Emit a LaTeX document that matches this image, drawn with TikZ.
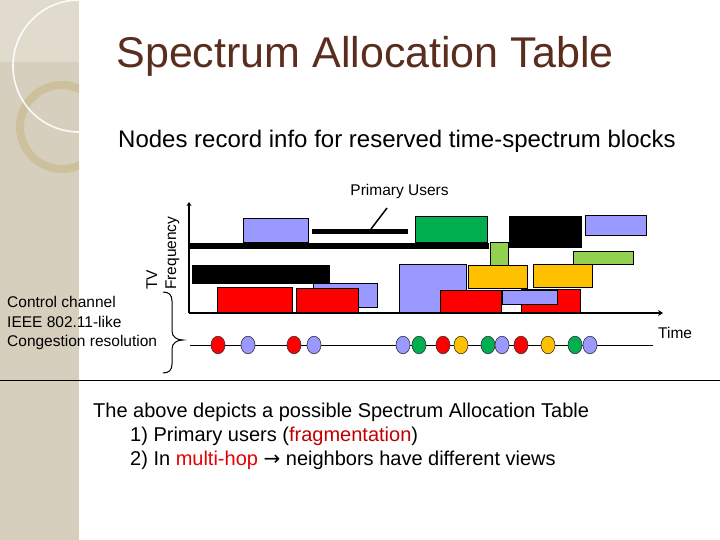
\documentclass[tikz,border=0pt]{standalone}
\usepackage{fontspec}
\setmainfont{Liberation Sans}
\newfontfamily\dejavu{DejaVu Sans}
\usetikzlibrary{arrows.meta}
\definecolor{strip}{RGB}{214,207,189}
\definecolor{striplight}{RGB}{224,219,205}
\definecolor{ring}{RGB}{196,176,120}
\definecolor{titlebrown}{RGB}{90,45,30}
\definecolor{puBlue}{RGB}{153,153,255}
\definecolor{puRed}{RGB}{255,0,0}
\definecolor{puGreen}{RGB}{0,176,80}
\definecolor{puYellow}{RGB}{255,192,0}
\definecolor{puLight}{RGB}{146,208,80}
\definecolor{hlred}{RGB}{192,0,0}
\definecolor{hlredb}{RGB}{230,0,0}
\begin{document}
\begin{tikzpicture}[x=1pt,y=-1pt,
  blk/.style={draw=black,line width=0.8pt},
  dot/.style={draw=black!80,line width=0.6pt},
  lbl/.style={inner sep=0pt,font=\fontsize{15.5}{18}\selectfont},
  body/.style={inner sep=0pt,anchor=base west,font=\fontsize{20}{24}\selectfont},
  axis/.style={line width=2.5pt},
]
\useasboundingbox (0,0) rectangle (720,540);
\fill[white] (0,0) rectangle (720,540);
% decorative strip
\fill[strip] (0,0) rectangle (79,540);
\fill[striplight] (0,0) rectangle (79,62);
\begin{scope}
  \clip (0,0) rectangle (79,540);
  \draw[ring, opacity=0.45, line width=8pt] (62,127) circle (42pt);
  \draw[white, opacity=0.9, line width=1.6pt] (79,66) circle (66pt);
\end{scope}
\draw[line width=0.8pt] (0,380) -- (720,380);

% titles
\node[anchor=base, inner sep=0pt, text=titlebrown, font=\fontsize{43}{50}\selectfont] (title) at (365,68) {Spectrum Allocation Table};
\node[anchor=base west, inner sep=0pt, font=\fontsize{24}{28}\selectfont] (sub) at (118,148) {Nodes record info for reserved time-spectrum blocks};

% labels
\node[lbl, anchor=base] (pu) at (399.5,196) {Primary Users};
\node[lbl, anchor=base west] (cc1) at (7,307) {Control channel};
\node[lbl, anchor=base west] (cc2) at (7,327) {IEEE 802.11-like};
\node[lbl, anchor=base west] (cc3) at (7,346) {Congestion resolution};
\node[lbl, anchor=base west, rotate=90] (tv) at (157,290) {TV};
\node[lbl, anchor=base west, rotate=90] (freq) at (176,290) {Frequency};
\node[lbl, anchor=base west] (time) at (658,338) {Time};

% blocks
\draw[blk, fill=puBlue] (243,218) rectangle (308,242);
\fill (312,229) rectangle (408,234);
\fill (189,243) rectangle (489,249);
\fill (192,265) rectangle (330,284);
\draw[blk, fill=puRed] (217,287) rectangle (292,313);
\draw[blk, fill=puBlue] (313,283) rectangle (377,307);
\draw[blk, fill=puRed] (296,288) rectangle (358,313);
\draw[blk, fill=puBlue] (399,264) rectangle (466,313);
\draw[blk, fill=puGreen] (415,216) rectangle (487,242);
\fill (509,216) rectangle (582,248);
\draw[blk, fill=puBlue] (585,215) rectangle (646,235);
\draw[blk, fill=puLight] (490,242) rectangle (508,266);
\draw[blk, fill=puLight] (573,251) rectangle (633,264);
\draw[blk, fill=puYellow] (468,265) rectangle (527,288);
\draw[blk, fill=puYellow] (533,264) rectangle (592,287);
\draw[blk, fill=puRed] (440,290) rectangle (501,313);
\draw[blk, fill=puRed] (521,289) rectangle (580,313);
\draw[blk, fill=puBlue] (502,290) rectangle (557,304);

% pointer to primary users
\coordinate (ptA) at (371,229);
\coordinate (ptB) at (387,208);
\draw[line width=1.5pt] (ptA) -- (ptB);

% axes
\coordinate (o) at (189,313);
\coordinate (ytop) at (189,202);
\coordinate (xend) at (663,313);
\draw[axis, -{Stealth[length=4pt,width=5pt]}] (o) -- (ytop);
\draw[axis, -{Stealth[length=5pt,width=6pt]}] (o) -- (xend);

% brace
\draw[line width=1pt] (163,292) .. controls (169,292) and (172,295) .. (172,301) -- (172,331)
  .. controls (172,337) and (177,340) .. (183,340)
  .. controls (177,340) and (172,343) .. (172,349) -- (172,364)
  .. controls (172,370) and (169,373) .. (163,373);

% control channel
\coordinate (cA) at (190,345);
\coordinate (cB) at (653,345);
\draw[line width=1pt] (cA) -- (cB);
\foreach \x/\c in {218/puRed, 248/puBlue, 294/puRed, 314/puBlue, 403/puBlue, 419/puGreen, 443/puRed, 461/puYellow, 488/puGreen, 502/puBlue, 521/puRed, 548/puYellow, 575/puGreen, 590/puBlue}
  \draw[dot, fill=\c] (\x,345) ellipse [x radius=7pt, y radius=8.8pt];

% body text
\node[body] (l1) at (93,417) {The above depicts a possible Spectrum Allocation Table};
\node[body] (l2) at (130,441) {1) Primary users (\textcolor{hlred}{fragmentation})};
\node[body] (l3) at (130,465) {2) In \textcolor{hlredb}{multi-hop} {\dejavu →} neighbors have different views};
\end{tikzpicture}
\end{document}
